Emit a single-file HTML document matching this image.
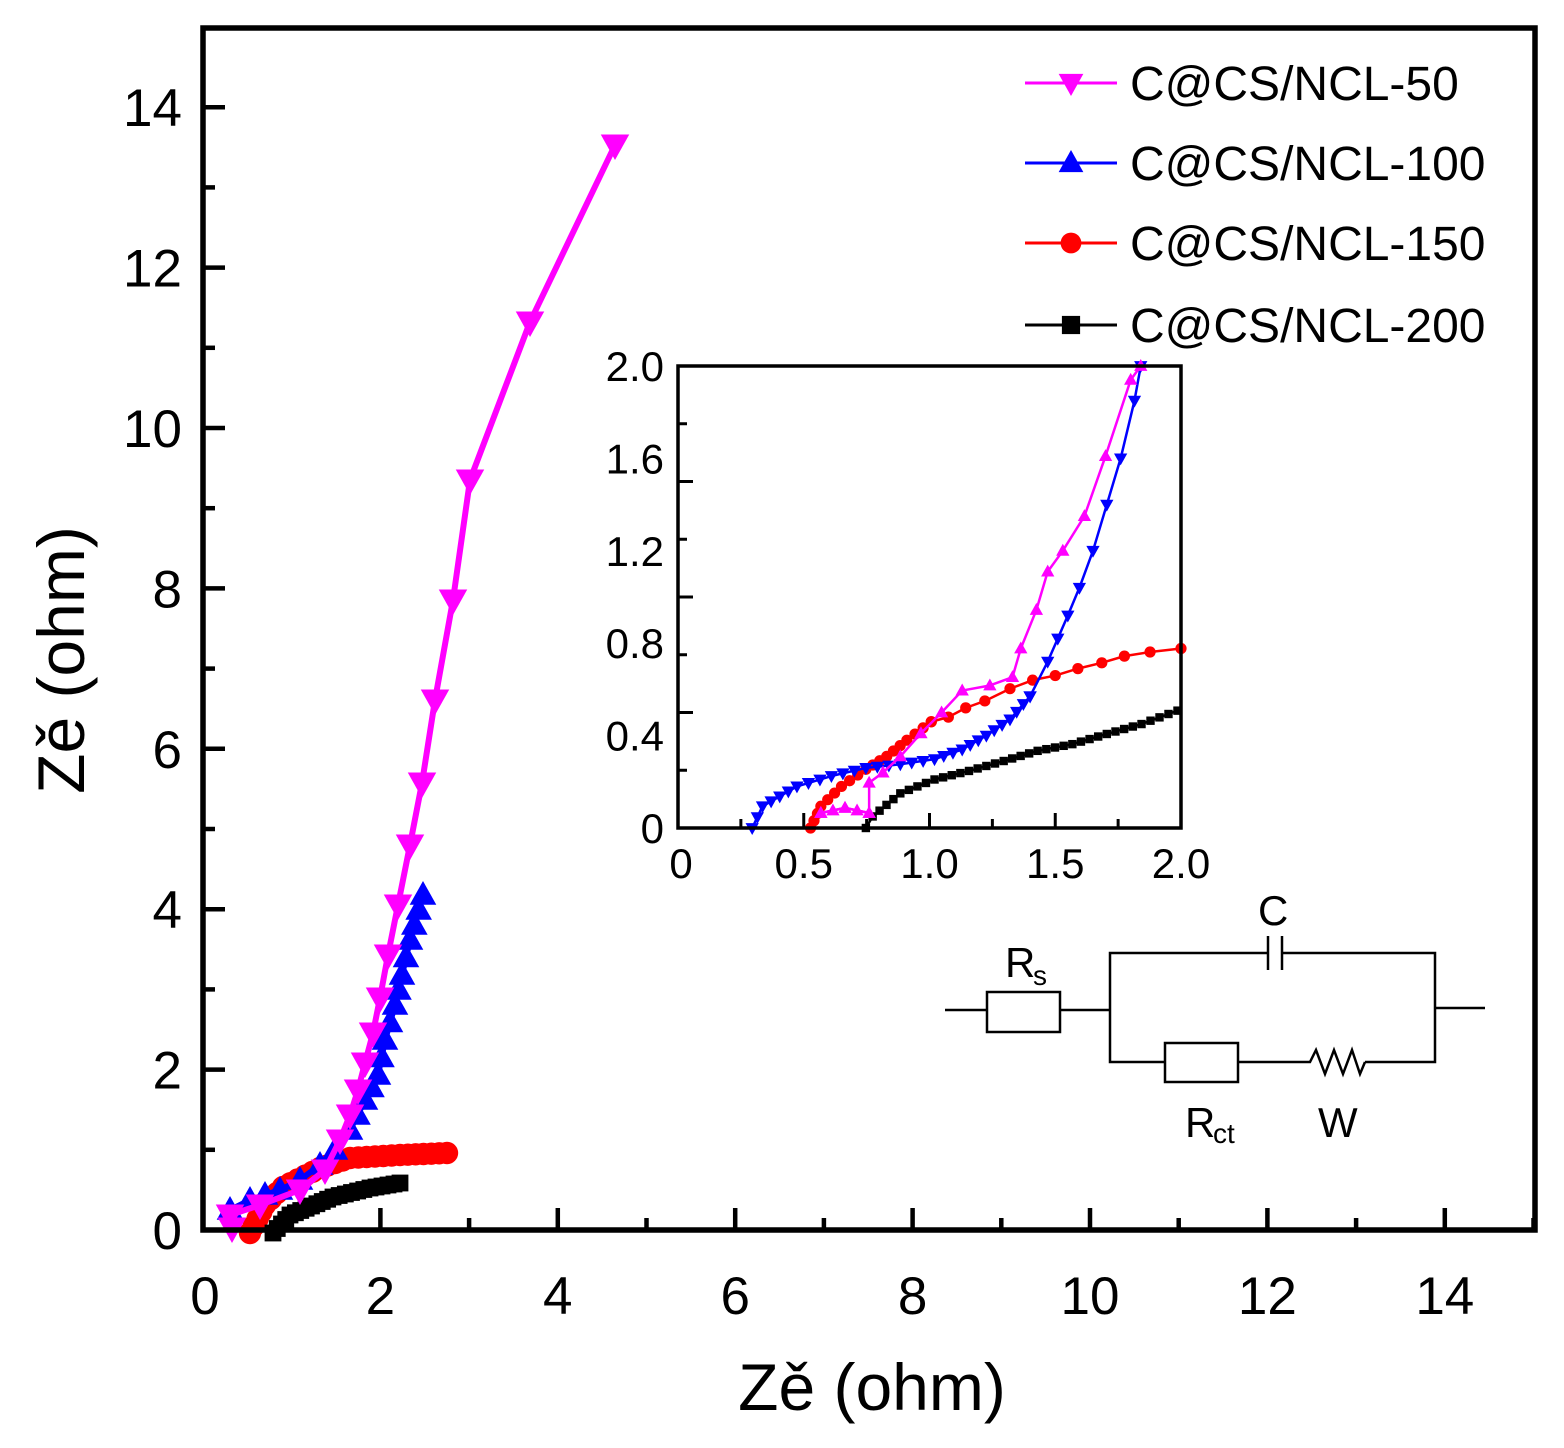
<!DOCTYPE html>
<html><head><meta charset="utf-8"><style>
html,body{margin:0;padding:0;background:#fff}
svg{display:block;font-family:"Liberation Sans",Arial,sans-serif}
</style></head><body>
<svg id="s" xmlns="http://www.w3.org/2000/svg" width="1564" height="1448" viewBox="0 0 1564 1448">
<rect width="1564" height="1448" fill="#fff"/>
</svg>
<script>
const s=document.getElementById('s');const NS='http://www.w3.org/2000/svg';
function el(t,a,txt){const e=document.createElementNS(NS,t);for(const k in a)e.setAttribute(k,a[k]);if(txt!==undefined)e.textContent=txt;s.appendChild(e);return e;}
const MX=x=>203+88.7*x, MY=y=>1230-80.2*y;
for(let i=0;i<=15;i++){const x=MX(i);const L=i%2==0?22:12;el('line',{x1:x,y1:1230,x2:x,y2:1230-L,stroke:'#000','stroke-width':4.5});}
for(let i=0;i<=14;i++){const y=MY(i);const L=i%2==0?22:12;el('line',{x1:203,y1:y,x2:203+L,y2:y,stroke:'#000','stroke-width':4.5});}
for(let i=0;i<=14;i+=2){el('text',{x:MX(i)+(i==0?2:0),y:1314,'font-size':53,'text-anchor':'middle'},String(i));
 el('text',{x:182,y:MY(i)+19,'font-size':53,'text-anchor':'end'},String(i));}
el('text',{x:872,y:1410,'font-size':66,'text-anchor':'middle'},'Zě (ohm)');
el('text',{x:0,y:0,'font-size':66,'text-anchor':'middle',transform:'translate(84,660) rotate(-90)'},'Zě (ohm)');
function tri(x,y,r,up,c){const h=r;const p=up?`${x},${y-h} ${x-h*0.95},${y+h*0.7} ${x+h*0.95},${y+h*0.7}`:`${x},${y+h} ${x-h*0.95},${y-h*0.7} ${x+h*0.95},${y-h*0.7}`;el('polygon',{points:p,fill:c});}
function mark(type,x,y,r,c){if(type=='d')tri(x,y,r,false,c);else if(type=='u')tri(x,y,r,true,c);else if(type=='o')el('circle',{cx:x,cy:y,r:r*0.8,fill:c});else el('rect',{x:x-r*0.7,y:y-r*0.7,width:r*1.4,height:r*1.4,fill:c});}
function series(pts,c,w,type,r,dense){el('polyline',{points:pts.map(p=>p.join(',')).join(' '),fill:'none',stroke:c,'stroke-width':w,'stroke-linejoin':'round'});
 let out=[];if(dense){for(let i=0;i<pts.length-1;i++){const[a,b]=[pts[i],pts[i+1]];const d=Math.hypot(b[0]-a[0],b[1]-a[1]);const n=Math.max(1,Math.round(d/dense));for(let k=0;k<n;k++)out.push([a[0]+(b[0]-a[0])*k/n,a[1]+(b[1]-a[1])*k/n]);}out.push(pts[pts.length-1]);}else out=pts;
 out.forEach(p=>mark(type,p[0],p[1],r,c));}
series([[250,1233],[265,1205],[283,1187],[320,1168],[350,1158],[400,1155],[447,1153]],'#f00',6,'o',14,8);
series([[273,1233],[290,1215],[333,1197],[370,1188],[400,1183]],'#000',6,'s',12,6);
series([[230,1210],[250,1200],[280,1190],[300,1180],[320,1165],[335,1150],[350,1130],[365,1100],[378,1075],[385,1040],[395,1005],[402,975],[410,940],[423,895]],'#00f',6,'u',14,18);
series([[232,1228],[230,1215],[260,1205],[300,1190],[325,1170],[340,1140],[350,1115],[358,1090],[365,1063],[373,1033],[380,998],[388,955],[398,905],[410,845],[422,783],[435,700],[453,600],[470,480],[530,322],[615,145]],'#f0f',6,'d',15,null);
el('rect',{x:203,y:28,width:1332,height:1202,fill:'none',stroke:'#000','stroke-width':5.5});
const leg=[['C@CS/NCL-50','#f0f','d',83],['C@CS/NCL-100','#00f','u',163],['C@CS/NCL-150','#f00','o',243],['C@CS/NCL-200','#000','s',325]];
leg.forEach(l=>{el('line',{x1:1025,y1:l[3],x2:1117,y2:l[3],stroke:l[1],'stroke-width':3});mark(l[2],1071,l[3],13,l[1]);el('text',{x:1130,y:l[3]+17,'font-size':48},l[0]);});
const IX=x=>678+251.5*x, IY=y=>828-231*y;
el('rect',{x:678,y:366,width:503,height:462,fill:'#fff'});
const bl=[[.295,0],[.336,.094],[.473,.18],[.61,.225],[.747,.26],[.884,.276],[1.02,.298],[1.13,.34],[1.226,.4],[1.32,.47],[1.40,.57],[1.47,.72],[1.51,.82],[1.55,.92],[1.596,1.04],[1.65,1.2],[1.705,1.4],[1.76,1.6],[1.815,1.85],[1.84,2.0]];
const mg=[[.568,.065],[.664,.087],[.76,.065],[.76,.196],[.815,.24],[.884,.31],[.966,.41],[1.048,.5],[1.13,.595],[1.24,.617],[1.33,.653],[1.363,.777],[1.425,.944],[1.47,1.11],[1.53,1.2],[1.616,1.35],[1.70,1.61],[1.8,1.94],[1.84,2.0]];
const rd=[[.527,0],[.568,.094],[.65,.18],[.747,.254],[.83,.31],[.91,.38],[1.007,.46],[1.075,.48],[1.144,.52],[1.22,.55],[1.32,.603],[1.41,.64],[1.5,.66],[1.59,.69],[1.685,.715],[1.775,.744],[1.877,.762],[2.0,.777]];
const bk=[[.747,0],[.774,.05],[.884,.15],[1.02,.21],[1.157,.247],[1.295,.29],[1.43,.334],[1.568,.363],[1.705,.407],[1.843,.45],[1.986,.508]];
const P=a=>a.map(p=>[IX(p[0]),IY(p[1])]);
series(P(bk),'#000',2.5,'s',6,10);
series(P(rd).slice(0,7),'#f00',2.5,'o',7,9);
series(P(rd).slice(6),'#f00',2.5,'o',7,null);
series(P(bl).slice(0,11),'#00f',2.5,'d',7,11);
series(P(bl).slice(10),'#00f',2.5,'d',7,null);
series(P(mg),'#f0f',2.5,'u',7,null);
series(P(mg).slice(0,3),'#f0f',2.5,'u',7,10);
el('rect',{x:678,y:366,width:503,height:462,fill:'none',stroke:'#000','stroke-width':3.5});
for(let i=0;i<=8;i++){const x=IX(i*0.25);const L=i%2==0?15:9;el('line',{x1:x,y1:828,x2:x,y2:828-L,stroke:'#000','stroke-width':3});
 const y=IY(i*0.25);el('line',{x1:678,y1:y,x2:678+L,y2:y,stroke:'#000','stroke-width':3});}
['0','0.5','1.0','1.5','2.0'].forEach((t,i)=>el('text',{x:IX(i*0.5)+(i==0?3:0),y:878,'font-size':42,'text-anchor':'middle'},t));
['0','0.4','0.8','1.2','1.6','2.0'].forEach((t,i)=>el('text',{x:664,y:IY(i*0.4)+15,'font-size':42,'text-anchor':'end'},t));
const g={stroke:'#000','stroke-width':2.5,fill:'none'};
el('polyline',Object.assign({points:'945,1010 987,1010'},g));
el('rect',Object.assign({x:987,y:992,width:73,height:40},g));
el('polyline',Object.assign({points:'1060,1010 1110,1010'},g));
el('polyline',Object.assign({points:'1268,953 1110,953 1110,1062 1165,1062'},g));
el('polyline',Object.assign({points:'1282,953 1435,953 1435,1062 1365,1062'},g));
el('line',Object.assign({x1:1268,y1:936,x2:1268,y2:970},g));el('line',Object.assign({x1:1282,y1:936,x2:1282,y2:970},g));
el('rect',Object.assign({x:1165,y:1043,width:73,height:39},g));
el('polyline',Object.assign({points:'1238,1062 1310,1062 1316,1050 1325,1074 1334,1050 1343,1074 1352,1050 1360,1074 1365,1062'},g));
el('polyline',Object.assign({points:'1435,1008 1485,1008'},g));
el('text',{x:1005,y:977,'font-size':42},'R');el('text',{x:1033,y:985,'font-size':28},'s');
el('text',{x:1258,y:925,'font-size':42},'C');
el('text',{x:1185,y:1137,'font-size':42},'R');el('text',{x:1213,y:1143,'font-size':28},'ct');
el('text',{x:1318,y:1137,'font-size':42},'W');
</script>
</body></html>
